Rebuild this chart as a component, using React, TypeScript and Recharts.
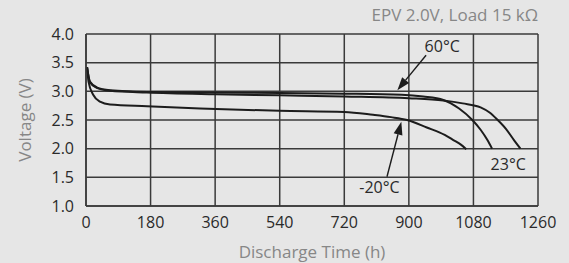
import React from 'react';
import {
  LineChart,
  Line,
  XAxis,
  YAxis,
  CartesianGrid,
  ReferenceLine,
  ReferenceDot,
} from 'recharts';

// discharge curves, time in hours, voltage in V
const curve60 = [
  { t: 3, v: 3.42 }, { t: 11, v: 3.17 }, { t: 30, v: 3.07 }, { t: 67, v: 3.02 },
  { t: 170, v: 2.99 }, { t: 360, v: 2.98 }, { t: 540, v: 2.97 }, { t: 720, v: 2.96 },
  { t: 880, v: 2.94 }, { t: 940, v: 2.91 }, { t: 996, v: 2.85 }, { t: 1040, v: 2.7 },
  { t: 1077, v: 2.5 }, { t: 1100, v: 2.33 }, { t: 1119, v: 2.15 }, { t: 1132, v: 2.0 },
];

const curve23 = [
  { t: 3, v: 3.42 }, { t: 11, v: 3.16 }, { t: 30, v: 3.06 }, { t: 67, v: 3.01 },
  { t: 170, v: 2.98 }, { t: 360, v: 2.95 }, { t: 540, v: 2.93 }, { t: 720, v: 2.91 },
  { t: 900, v: 2.88 }, { t: 996, v: 2.84 }, { t: 1050, v: 2.79 }, { t: 1100, v: 2.72 },
  { t: 1125, v: 2.63 }, { t: 1146, v: 2.51 }, { t: 1170, v: 2.35 }, { t: 1193, v: 2.15 },
  { t: 1211, v: 2.0 },
];

const curveMinus20 = [
  { t: 3, v: 3.42 }, { t: 7, v: 3.17 }, { t: 20, v: 2.94 }, { t: 39, v: 2.82 },
  { t: 67, v: 2.77 }, { t: 170, v: 2.74 }, { t: 318, v: 2.7 }, { t: 540, v: 2.66 },
  { t: 720, v: 2.64 }, { t: 800, v: 2.59 }, { t: 850, v: 2.55 }, { t: 895, v: 2.5 },
  { t: 950, v: 2.37 }, { t: 1000, v: 2.24 }, { t: 1024, v: 2.15 }, { t: 1045, v: 2.07 },
  { t: 1060, v: 1.99 },
];

const xTicks = [0, 180, 360, 540, 720, 900, 1080, 1260];
const yTicks = [1.0, 1.5, 2.0, 2.5, 3.0, 3.5, 4.0];

const tempLabels = ['60°C', '23°C', '-20°C'];
const titleText = 'EPV 2.0V, Load 15 kΩ';
const xTitle = 'Discharge Time (h)';
const yTitle = 'Voltage (V)';

const FONT = '"Open Sans", sans-serif';
const BG = '#e6e6e6';
const INK = '#1c1c1c';
const GREY = '#878787';

const Arrow = (props: any) => {
  const { x1, y1, x2, y2 } = props;
  const ang = Math.atan2(y2 - y1, x2 - x1);
  const len = 13;
  const w = 4.5;
  const bx = x2 - len * Math.cos(ang);
  const by = y2 - len * Math.sin(ang);
  const px = -Math.sin(ang) * w;
  const py = Math.cos(ang) * w;
  return (
    <g>
      <line x1={x1} y1={y1} x2={bx} y2={by} stroke={INK} strokeWidth={1.4} />
      <polygon points={`${x2},${y2} ${bx + px},${by + py} ${bx - px},${by - py}`} fill={INK} />
    </g>
  );
};

const YTitle = (props: any) => {
  const vb = props.viewBox;
  const cx = vb.x + 24;
  const cy = vb.y + vb.height / 2;
  return (
    <text x={cx} y={cy} transform={`rotate(-90 ${cx} ${cy})`} textAnchor="middle"
      dominantBaseline="central" fill={GREY} fontSize={17} fontFamily={FONT}>
      {yTitle}
    </text>
  );
};

const App: React.FC = () => {
  const tick = { fill: '#2a2a2a', fontSize: 16, fontFamily: FONT };
  const tempStyle = { fill: '#2a2a2a', fontSize: 16, fontFamily: FONT };
  return (
    <div style={{ position: 'absolute', left: 0, top: 0, width: 569, height: 263, background: BG }}>
      <div style={{
        position: 'absolute', right: 31, top: 3, fontFamily: FONT, fontSize: 17,
        color: GREY, whiteSpace: 'nowrap',
      }}>
        {titleText}
      </div>
      <LineChart width={569} height={263} data={curve60}
        margin={{ top: 34, right: 31, bottom: 0, left: 0 }}>
        <CartesianGrid stroke="#3a3a3a" strokeWidth={1.5} fill="none" />
        <XAxis type="number" dataKey="t" domain={[0, 1260]} ticks={xTicks}
          allowDataOverflow tick={tick} tickLine={false} axisLine={{ stroke: '#3a3a3a', strokeWidth: 1.5 }}
          tickSize={0} tickMargin={11} height={57}
          label={{ value: xTitle, position: 'insideBottom', offset: 5, fill: GREY, fontSize: 17, fontFamily: FONT }} />
        <YAxis type="number" domain={[1, 4]} ticks={yTicks} allowDataOverflow
          tickFormatter={(v: number) => v.toFixed(1)} tick={tick} tickLine={false}
          axisLine={{ stroke: '#3a3a3a', strokeWidth: 1.5 }} tickSize={0} tickMargin={12} width={86}
          label={{ content: YTitle }} />
        <Line data={curve60} dataKey="v" type="monotone" stroke={INK} strokeWidth={2}
          dot={false} isAnimationActive={false} />
        <Line data={curve23} dataKey="v" type="monotone" stroke={INK} strokeWidth={2}
          dot={false} isAnimationActive={false} />
        <Line data={curveMinus20} dataKey="v" type="monotone" stroke={INK} strokeWidth={2}
          dot={false} isAnimationActive={false} />
        <ReferenceLine segment={[{ x: 948, y: 3.63 }, { x: 868, y: 3.02 }]} shape={Arrow} />
        <ReferenceLine segment={[{ x: 839, y: 1.51 }, { x: 879, y: 2.47 }]} shape={Arrow} />
        <ReferenceDot x={993} y={3.79} r={0} fill="none" stroke="none"
          label={{ value: tempLabels[0], position: 'center', ...tempStyle }} />
        <ReferenceDot x={1177} y={1.72} r={0} fill="none" stroke="none"
          label={{ value: tempLabels[1], position: 'center', ...tempStyle }} />
        <ReferenceDot x={818} y={1.32} r={0} fill="none" stroke="none"
          label={{ value: tempLabels[2], position: 'center', ...tempStyle }} />
      </LineChart>
    </div>
  );
};

export default App;
